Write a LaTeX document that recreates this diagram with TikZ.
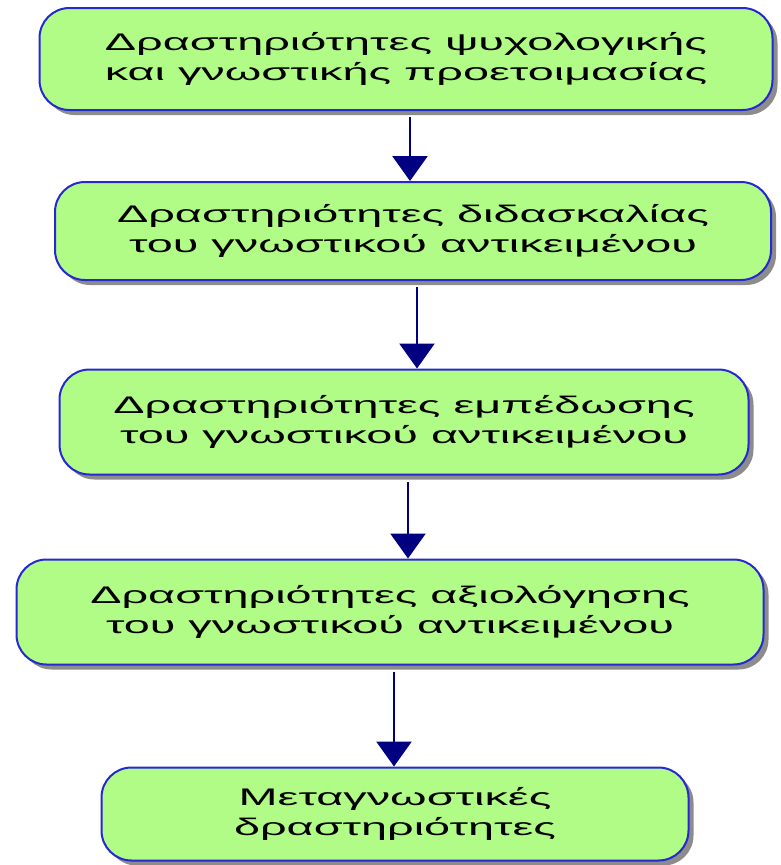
\documentclass[tikz,border=0pt]{standalone}
\usepackage{fontspec}
\usepackage{tikz}
\usetikzlibrary{arrows.meta,shadows}
\newfontfamily\boxfont{Liberation Sans}[FakeStretch=1.95]
\definecolor{boxgreen}{HTML}{B0FC86}
\definecolor{boxblue}{HTML}{2828D0}
\definecolor{arrownavy}{HTML}{000080}

\begin{document}
\begin{tikzpicture}[x=1pt,y=-1pt,
	stage/.style={draw=boxblue, line width=2pt, fill=boxgreen, rounded corners=30pt, align=center,
		font=\boxfont\fontsize{24}{30}\selectfont,
		drop shadow={shadow xshift=5pt, shadow yshift=-5pt, fill=black!45, opacity=1}},
	flow/.style={draw=arrownavy, line width=2.8pt, -{Triangle[width=35pt,length=25pt]}, shorten <=6pt}]
	\useasboundingbox (0,0) rectangle (780,865);
	\node[stage, minimum width=733pt, minimum height=102pt] (b1) at (406,59)
		{Δραστηριότητες ψυχολογικής\\και γνωστικής προετοιμασίας};
	\node[stage, minimum width=716pt, minimum height=98pt] (b2) at (413,231)
		{Δραστηριότητες διδασκαλίας\\του γνωστικού αντικειμένου};
	\node[stage, minimum width=689pt, minimum height=105pt] (b3) at (404,422)
		{Δραστηριότητες εμπέδωσης\\του γνωστικού αντικειμένου};
	\node[stage, minimum width=747pt, minimum height=105pt] (b4) at (390,612)
		{Δραστηριότητες αξιολόγησης\\του γνωστικού αντικειμένου};
	\node[stage, minimum width=587pt, minimum height=93pt] (b5) at (395,814)
		{Μεταγνωστικές\\δραστηριότητες};
	\foreach \a/\b in {b1/b2,b2/b3,b3/b4,b4/b5}
	{
		\draw[flow] ([xshift=4pt]\a.south) -- ([xshift=4pt]\a.south |- \b.north);
	}
\end{tikzpicture}
\end{document}
